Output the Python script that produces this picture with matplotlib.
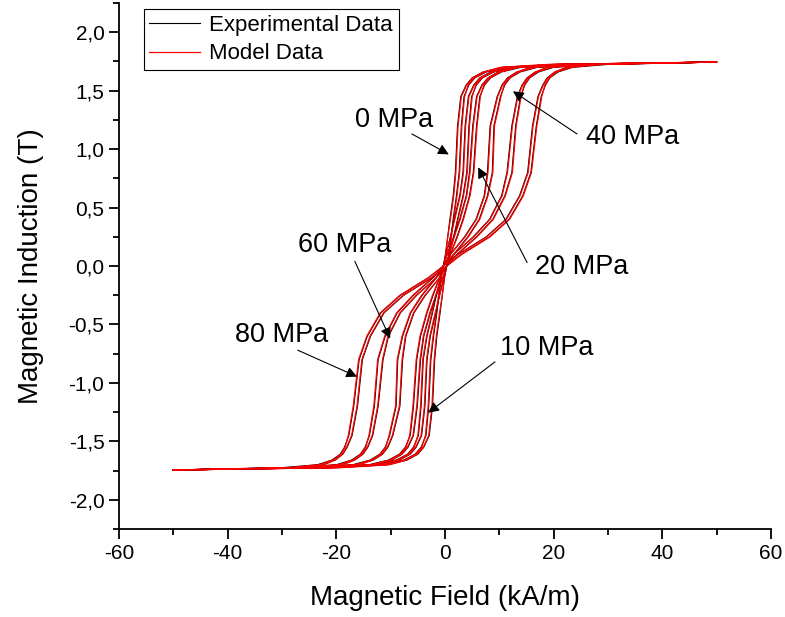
import numpy as np
import matplotlib.pyplot as plt
from matplotlib.ticker import MultipleLocator, FuncFormatter

plt.rcParams['font.family'] = ['Liberation Sans', 'DejaVu Sans']

# induction levels (T) at which the ascending branch was read
b_grid = [-1.745, -1.725, -1.70, -1.66, -1.61, -1.55, -1.45, -1.2, -0.8, -0.6, -0.4, -0.25, -0.1, 0.0,
          0.1, 0.25, 0.4, 0.6, 0.8, 1.2, 1.45, 1.55, 1.61, 1.66, 1.70, 1.725, 1.745]

stress = [0, 10, 20, 40, 60, 80]  # MPa

# ascending branch, magnetic field (kA/m) at each b_grid level
exp_up = [
    [-50, -20, -10.5, -7.0, -5.0, -3.9, -2.9, -2.3, -1.9, -1.5, -0.9, -0.5, -0.1, 0.3,
     0.7, 1.1, 1.5, 2.1, 2.6, 3.0, 3.5, 4.4, 5.5, 7.6, 11.5, 22, 50],
    [-50, -21, -12, -8.4, -6.4, -5.3, -4.3, -3.7, -3.3, -2.7, -1.7, -1.0, -0.2, 0.3,
     0.8, 1.6, 2.3, 3.3, 4.0, 4.4, 4.9, 5.8, 6.9, 9.0, 13, 23, 50],
    [-50, -22, -13, -9.8, -7.9, -6.8, -5.8, -5.1, -4.5, -3.9, -2.7, -1.6, -0.4, 0.3,
     1.0, 2.2, 3.3, 4.5, 5.2, 5.8, 6.4, 7.3, 8.4, 10.4, 14, 24, 50],
    [-50, -24, -16, -13.2, -11.5, -10.5, -9.6, -8.3, -7.8, -7.2, -5.7, -3.6, -1.0, 0.3,
     1.6, 4.2, 6.3, 7.8, 8.7, 9.0, 10.2, 11.0, 12.0, 13.8, 17, 26, 50],
    [-50, -26, -19, -16.6, -15.1, -14.2, -13.3, -12.3, -11.4, -10.4, -8.2, -5.2, -1.6, 0.3,
     2.2, 5.8, 8.8, 11.0, 12.3, 13.0, 13.9, 14.7, 15.6, 17.2, 20, 28, 50],
    [-50, -28, -22.5, -20.2, -18.8, -18.0, -17.1, -16.1, -15.2, -13.7, -11.2, -7.6, -2.4, 0.3,
     3.0, 8.2, 11.8, 14.3, 15.8, 16.8, 17.7, 18.5, 19.3, 20.8, 23.5, 30, 50],
]

model_up = [
    [-50, -19, -10.2, -7.1, -5.1, -4.0, -3.0, -2.4, -2.0, -1.6, -1.0, -0.5, -0.1, 0.3,
     0.7, 1.2, 1.6, 2.2, 2.7, 3.1, 3.6, 4.3, 5.4, 7.4, 11, 21, 50],
    [-50, -20, -11.7, -8.5, -6.5, -5.4, -4.4, -3.8, -3.4, -2.8, -1.8, -1.0, -0.2, 0.3,
     0.8, 1.7, 2.4, 3.4, 4.1, 4.5, 5.0, 5.7, 6.8, 8.8, 12.5, 22, 50],
    [-50, -21, -12.8, -9.9, -8.0, -6.9, -5.9, -5.2, -4.6, -4.0, -2.8, -1.7, -0.4, 0.3,
     1.0, 2.3, 3.4, 4.6, 5.3, 5.9, 6.5, 7.2, 8.3, 10.2, 13.6, 23, 50],
    [-50, -23, -15.7, -13.3, -11.6, -10.6, -9.7, -8.4, -7.9, -7.3, -5.8, -3.7, -1.0, 0.3,
     1.7, 4.3, 6.4, 7.9, 8.8, 9.1, 10.3, 10.9, 11.9, 13.6, 16.6, 25, 50],
    [-50, -25, -18.7, -16.7, -15.2, -14.3, -13.4, -12.4, -11.5, -10.5, -8.3, -5.3, -1.6, 0.3,
     2.3, 5.9, 8.9, 11.1, 12.4, 13.1, 14.0, 14.6, 15.5, 17.0, 19.6, 27, 50],
    [-50, -27, -22.2, -20.3, -18.9, -18.1, -17.2, -16.2, -15.3, -13.8, -11.3, -7.7, -2.5, 0.3,
     3.1, 8.3, 11.9, 14.4, 15.9, 16.9, 17.8, 18.4, 19.2, 20.6, 23.2, 29, 50],
]

# label, text position, arrow tail and tip (data coords)
labels = ["0 MPa", "10 MPa", "20 MPa", "40 MPa", "60 MPa", "80 MPa"]
label_xy = [(-9.4, 1.25), (18.8, -0.70), (25.2, -0.01), (34.6, 1.10), (-18.4, 0.18), (-30.0, -0.59)]
tail_xy = [(-6.1, 1.13), (9.2, -0.82), (15.1, 0.03), (24.3, 1.13), (-16.6, 0.04), (-27.1, -0.72)]
tip_xy = [(0.7, 0.955), (-3.1, -1.255), (6.1, 0.844), (12.5, 1.495), (-10.1, -0.62), (-16.2, -0.946)]


def full_loop(h_up):
    h = np.asarray(h_up, dtype=float)
    b = np.asarray(b_grid, dtype=float)
    # descending branch is the ascending one mirrored through the origin
    return np.concatenate([h, -h]), np.concatenate([b, -b])


fig = plt.figure(figsize=(7.85, 6.17), dpi=100)
ax = fig.add_axes([0.1516, 0.1426, 0.8306, 0.8525])

for i in range(len(stress)):
    h, b = full_loop(exp_up[i])
    ax.plot(h, b, color='black', lw=0.8)
    h, b = full_loop(model_up[i])
    ax.plot(h, b, color='#ff0000', lw=0.9)

for text, pos, tail, tip in zip(labels, label_xy, tail_xy, tip_xy):
    ax.text(pos[0], pos[1], text, fontsize=19.5, ha='center', va='center')
    ax.annotate('', xy=tip, xytext=tail,
                arrowprops=dict(arrowstyle='-|>', color='black', lw=0.8,
                                mutation_scale=16, shrinkA=0, shrinkB=0))

ax.plot([], [], color='black', lw=0.8, label='Experimental Data')
ax.plot([], [], color='#ff0000', lw=0.9, label='Model Data')
leg = ax.legend(loc='upper left', bbox_to_anchor=(0.038, 0.9886), borderaxespad=0,
                fancybox=False, edgecolor='black', framealpha=1, fontsize=16,
                handlelength=2.3, handletextpad=0.4, labelspacing=0.35, borderpad=0.25)
leg.get_frame().set_linewidth(0.8)

ax.set_xlim(-60, 60)
ax.set_ylim(-2.25, 2.25)
ax.xaxis.set_major_locator(MultipleLocator(20))
ax.xaxis.set_minor_locator(MultipleLocator(10))
ax.yaxis.set_major_locator(MultipleLocator(0.5))
ax.yaxis.set_minor_locator(MultipleLocator(0.25))
ax.xaxis.set_major_formatter(FuncFormatter(lambda v, p: f"{v:.0f}"))
ax.yaxis.set_major_formatter(FuncFormatter(lambda v, p: f"{v:.1f}".replace('.', ',')))

for side in ['top', 'right']:
    ax.spines[side].set_visible(False)
for side in ['left', 'bottom']:
    ax.spines[side].set_linewidth(1.3)
ax.tick_params(which='major', direction='out', length=7, width=1.3, labelsize=15)
ax.tick_params(which='minor', direction='out', length=4, width=1.3)

ax.set_xlabel('Magnetic Field (kA/m)', fontsize=20, labelpad=16)
ax.set_ylabel('Magnetic Induction (T)', fontsize=20, labelpad=18)

fig.savefig('out.png', dpi=100)
